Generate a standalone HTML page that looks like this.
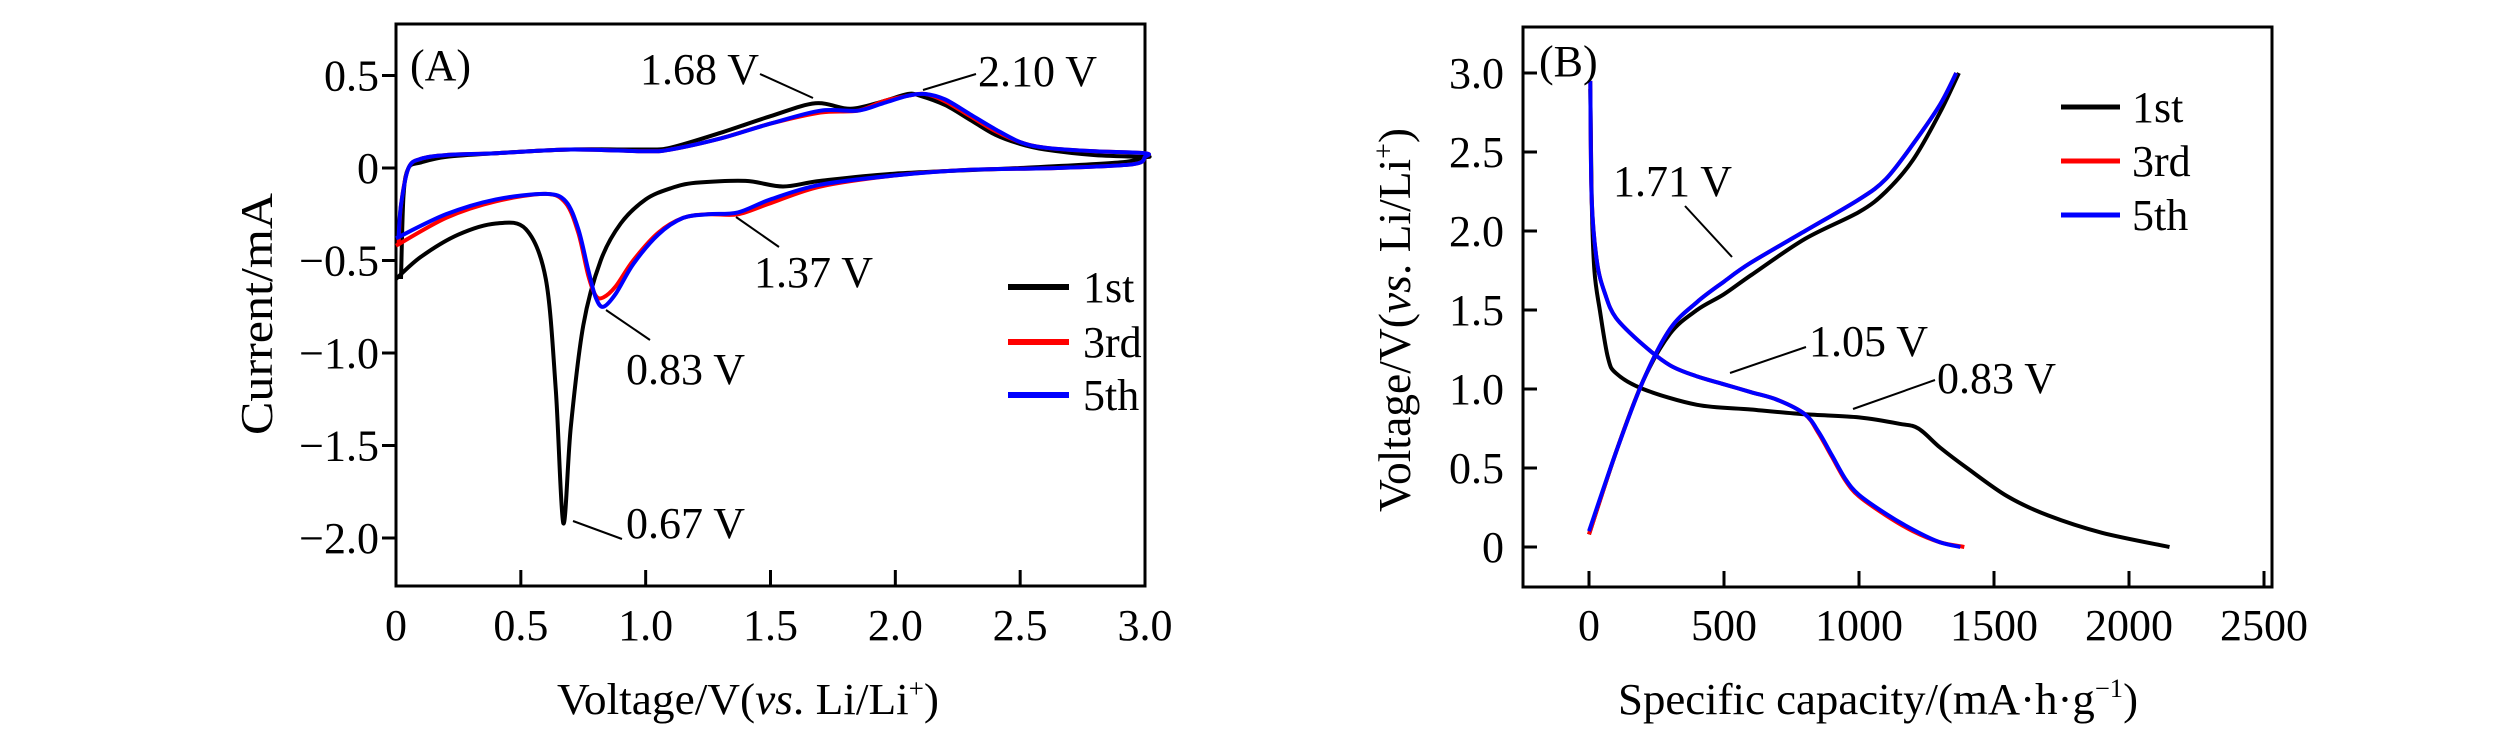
<!DOCTYPE html>
<html><head><meta charset="utf-8"><style>
html,body{margin:0;padding:0;background:#fff;}
svg{display:block;font-family:"Liberation Serif",serif;}
</style></head><body>
<svg id="chart" width="2520" height="740" viewBox="0 0 2520 740" xmlns="http://www.w3.org/2000/svg">
<g id="pa"></g>
<g id="pb"></g>
</svg>
<script>
// ---------- Panel A data ----------
const aXTicks = [0, 0.5, 1.0, 1.5, 2.0, 2.5, 3.0];
const aXTickLabels = ["0", "0.5", "1.0", "1.5", "2.0", "2.5", "3.0"];
const aYTicks = [0.5, 0, -0.5, -1.0, -1.5, -2.0];
const aYTickLabels = ["0.5", "0", "\u22120.5", "\u22121.0", "\u22121.5", "\u22122.0"];
const aSeriesNames = ["1st", "3rd", "5th"];
const aV1 = [0,0.1,0.25,0.4,0.52,0.6,0.64,0.67,0.7,0.75,0.82,0.9,1.0,1.1,1.2,1.4,1.55,1.7,2.0,2.5,2.9,3.0,3.0,2.8,2.6,2.5,2.4,2.3,2.2,2.1,2.05,1.95,1.82,1.68,1.5,1.3,1.1,1.0,0.7,0.4,0.2,0.1,0.05,0.03,0.02];
const aI1 = [-0.6,-0.48,-0.36,-0.3,-0.33,-0.6,-1.2,-1.92,-1.4,-0.85,-0.5,-0.3,-0.17,-0.11,-0.08,-0.07,-0.1,-0.07,-0.03,0.0,0.03,0.06,0.06,0.07,0.1,0.13,0.18,0.26,0.34,0.39,0.4,0.36,0.32,0.35,0.28,0.19,0.11,0.1,0.1,0.08,0.06,0.03,0.0,-0.15,-0.6];
const aV3 = [0,0.2,0.4,0.6,0.68,0.73,0.77,0.8,0.83,0.88,0.95,1.05,1.15,1.25,1.37,1.5,1.7,2.0,2.3,2.65,2.95,3.0,3.0,2.8,2.6,2.5,2.4,2.3,2.2,2.12,2.05,1.95,1.85,1.7,1.5,1.3,1.1,1.0,0.7,0.4,0.2,0.1,0.05,0.02,0.01];
const aI3 = [-0.42,-0.27,-0.18,-0.14,-0.19,-0.35,-0.58,-0.69,-0.7,-0.64,-0.5,-0.35,-0.27,-0.25,-0.25,-0.19,-0.1,-0.04,-0.01,0.0,0.02,0.06,0.08,0.09,0.11,0.14,0.2,0.28,0.36,0.4,0.39,0.36,0.31,0.3,0.24,0.16,0.1,0.09,0.1,0.08,0.07,0.05,0.0,-0.2,-0.42];
const aV5 = [0,0.2,0.4,0.6,0.68,0.73,0.77,0.8,0.83,0.88,0.95,1.05,1.15,1.25,1.37,1.5,1.7,2.0,2.3,2.65,2.95,3.0,3.0,2.8,2.6,2.5,2.4,2.3,2.2,2.12,2.05,1.95,1.85,1.7,1.5,1.3,1.1,1.0,0.7,0.4,0.2,0.1,0.05,0.02,0.01];
const aI5 = [-0.38,-0.25,-0.17,-0.14,-0.18,-0.33,-0.55,-0.7,-0.75,-0.68,-0.52,-0.36,-0.27,-0.25,-0.24,-0.17,-0.09,-0.04,-0.01,0.0,0.02,0.06,0.08,0.09,0.11,0.14,0.21,0.29,0.37,0.4,0.39,0.35,0.31,0.31,0.24,0.16,0.1,0.09,0.1,0.08,0.07,0.05,0.0,-0.2,-0.38];
// ---------- Panel B data ----------
const bXTicks = [0, 500, 1000, 1500, 2000, 2500];
const bXTickLabels = ["0", "500", "1000", "1500", "2000", "2500"];
const bYTicks = [0, 0.5, 1.0, 1.5, 2.0, 2.5, 3.0];
const bYTickLabels = ["0", "0.5", "1.0", "1.5", "2.0", "2.5", "3.0"];
const bSeriesNames = ["1st", "3rd", "5th"];
const bDisC1 = [5,10,20,40,70,100,200,400,600,800,1000,1150,1220,1300,1400,1550,1700,1900,2150];
const bDisV1 = [2.9,2.2,1.75,1.5,1.2,1.1,1.0,0.9,0.87,0.84,0.82,0.78,0.75,0.63,0.5,0.32,0.2,0.09,0.0];
const bChC1 = [0,100,200,300,400,500,600,800,1000,1100,1200,1300,1370];
const bChV1 = [0.08,0.6,1.05,1.35,1.5,1.6,1.72,1.95,2.12,2.25,2.45,2.75,3.0];
const bDisC3 = [5,10,30,60,100,200,300,400,500,600,700,800,850,900,950,1000,1100,1200,1300,1390];
const bDisV3 = [2.95,2.2,1.8,1.6,1.45,1.28,1.15,1.08,1.03,0.98,0.93,0.84,0.72,0.57,0.42,0.32,0.2,0.1,0.03,0.0];
const bChC3 = [0,100,200,300,400,500,600,800,1000,1100,1200,1300,1360];
const bChV3 = [0.08,0.6,1.05,1.38,1.55,1.68,1.8,2.0,2.2,2.33,2.55,2.8,3.0];
const bDisC5 = [5,10,30,60,100,200,300,400,500,600,700,800,850,900,950,1000,1100,1200,1300,1375];
const bDisV5 = [2.95,2.2,1.8,1.6,1.45,1.28,1.15,1.08,1.03,0.98,0.93,0.84,0.73,0.58,0.43,0.33,0.21,0.11,0.03,0.0];
const bChC5 = [0,100,200,300,400,500,600,800,1000,1100,1200,1300,1360];
const bChV5 = [0.1,0.6,1.05,1.38,1.55,1.68,1.8,2.0,2.2,2.33,2.55,2.8,3.0];

const NS = "http://www.w3.org/2000/svg";
const FS = 44;
function mk(parent, tag, attrs, text) {
  const e = document.createElementNS(NS, tag);
  for (const k in attrs) e.setAttribute(k, attrs[k]);
  if (text !== undefined) e.textContent = text;
  parent.appendChild(e);
  return e;
}
function smoothPath(pts) {
  let d = "M" + pts[0][0].toFixed(1) + "," + pts[0][1].toFixed(1);
  for (let i = 0; i < pts.length - 1; i++) {
    const p0 = pts[Math.max(0, i - 1)], p1 = pts[i], p2 = pts[i + 1], p3 = pts[Math.min(pts.length - 1, i + 2)];
    const t = 0.16;
    const c1 = [p1[0] + (p2[0] - p0[0]) * t, p1[1] + (p2[1] - p0[1]) * t];
    const c2 = [p2[0] - (p3[0] - p1[0]) * t, p2[1] - (p3[1] - p1[1]) * t];
    d += " C" + c1[0].toFixed(1) + "," + c1[1].toFixed(1) + " " + c2[0].toFixed(1) + "," + c2[1].toFixed(1) + " " + p2[0].toFixed(1) + "," + p2[1].toFixed(1);
  }
  return d;
}
const colors = ["#000000", "#ff0000", "#0000ff"];

// ---------- Panel A ----------
(function () {
  const g = document.getElementById("pa");
  const L = 396, R = 1145, T = 24, B = 586;
  const x = v => L + (v - 0) / 3 * (R - L);
  const y = v => 168 - v * 185;
  const box = mk(g, "rect", {x: L, y: T, width: R - L, height: B - T, fill: "none", stroke: "#000", "stroke-width": 3});
  
  
  aXTicks.forEach((v, i) => {
    if (i > 0 && i < aXTicks.length - 1) {
      const tk = mk(g, "line", {x1: x(v), x2: x(v), y1: B, y2: B - 16, stroke: "#000", "stroke-width": 3});
      
      
    }
    const t = mk(g, "text", {x: x(v), y: 640, "font-size": FS, "text-anchor": "middle"}, aXTickLabels[i]);
    
    
  });
  aYTicks.forEach((v, i) => {
    const tk = mk(g, "line", {x1: L - 14, x2: L, y1: y(v), y2: y(v), stroke: "#000", "stroke-width": 3});
    
    
    const t = mk(g, "text", {x: 379, y: y(v) + 15, "font-size": FS, "text-anchor": "end"}, aYTickLabels[i]);
    
    
  });
  const yt = mk(g, "text", {x: 0, y: 0, "font-size": 46, "text-anchor": "middle", transform: "translate(272,314) rotate(-90)", textLength: 242, lengthAdjust: "spacingAndGlyphs"}, "Current/mA");
  
  
  const xt = mk(g, "text", {x: 748, y: 714, "font-size": 44, "text-anchor": "middle", textLength: 382, lengthAdjust: "spacingAndGlyphs"});
  
  
  xt.innerHTML = 'Voltage/V(<tspan font-style="italic">vs</tspan>. Li/Li<tspan font-size="26" dy="-17">+</tspan><tspan dy="17">)</tspan>';
  const series = [[aV1, aI1], [aV3, aI3], [aV5, aI5]];
  [0, 1, 2].forEach(s => {
    const pts = series[s][0].map((v, i) => [x(v), y(series[s][1][i])]);
    const p = mk(g, "path", {d: smoothPath(pts), fill: "none", stroke: colors[s], "stroke-width": 4, "stroke-linejoin": "round"});
    
    
  });
  const legY = [287, 342, 395];
  aSeriesNames.forEach((n, i) => {
    const l = mk(g, "line", {x1: 1008, x2: 1069, y1: legY[i], y2: legY[i], stroke: colors[i], "stroke-width": 6});
    
    
    const t = mk(g, "text", {x: 1083, y: legY[i] + 15, "font-size": FS}, n);
    
    
  });
  const ann = [["(A)", 410, 80, null], ["1.68 V", 640, 84, [760, 74, 813, 98]], ["2.10 V", 978, 86, [976, 74, 923, 90]],
               ["1.37 V", 754, 287, [779, 247, 736, 217]], ["0.83 V", 626, 384, [650, 340, 606, 310]], ["0.67 V", 626, 538, [622, 539, 573, 521]]];
  ann.forEach(a => {
    const t = mk(g, "text", {x: a[1], y: a[2], "font-size": FS}, a[0]);
    
    
    if (a[3]) {
      const l = mk(g, "line", {x1: a[3][0], y1: a[3][1], x2: a[3][2], y2: a[3][3], stroke: "#000", "stroke-width": 2});
      
      
    }
  });
})();

// ---------- Panel B ----------
(function () {
  const g = document.getElementById("pb");
  const L = 1523, R = 2272, T = 27, B = 587;
  const x = v => 1589 + v / 500 * 135;
  const y = v => 547 - v / 0.5 * 79;
  const box = mk(g, "rect", {x: L, y: T, width: R - L, height: B - T, fill: "none", stroke: "#000", "stroke-width": 3});
  
  
  bXTicks.forEach((v, i) => {
    if (x(v) < R - 5) {
      const tk = mk(g, "line", {x1: x(v), x2: x(v), y1: B, y2: B - 16, stroke: "#000", "stroke-width": 3});
      
      
    }
    const t = mk(g, "text", {x: x(v), y: 640, "font-size": FS, "text-anchor": "middle"}, bXTickLabels[i]);
    
    
  });
  bYTicks.forEach((v, i) => {
    const tk = mk(g, "line", {x1: L, x2: L + 14, y1: y(v), y2: y(v), stroke: "#000", "stroke-width": 3});
    
    
    const t = mk(g, "text", {x: 1504, y: y(v) + 15, "font-size": FS, "text-anchor": "end"}, bYTickLabels[i]);
    
    
  });
  const yt = mk(g, "text", {x: 0, y: 0, "font-size": 46, "text-anchor": "middle", transform: "translate(1410,320) rotate(-90)", textLength: 384, lengthAdjust: "spacingAndGlyphs"});
  
  
  yt.innerHTML = 'Voltage/V(<tspan font-style="italic">vs</tspan>. Li/Li<tspan font-size="28" dy="-17">+</tspan><tspan dy="17">)</tspan>';
  const xt = mk(g, "text", {x: 1878, y: 714, "font-size": 44, "text-anchor": "middle", textLength: 520, lengthAdjust: "spacingAndGlyphs"});
  
  
  xt.innerHTML = 'Specific capacity/(mA\u00b7h\u00b7g<tspan font-size="26" dy="-17">\u22121</tspan><tspan dy="17">)</tspan>';
  const series = [[bDisC1, bDisV1, bChC1, bChV1], [bDisC3, bDisV3, bChC3, bChV3], [bDisC5, bDisV5, bChC5, bChV5]];
  [0, 1, 2].forEach(s => {
    const d1 = series[s][0].map((c, i) => [x(c), y(series[s][1][i])]);
    const d2 = series[s][2].map((c, i) => [x(c), y(series[s][3][i])]);
    const p1 = mk(g, "path", {d: smoothPath(d1), fill: "none", stroke: colors[s], "stroke-width": 4, "stroke-linejoin": "round"});
    
    
    const p2 = mk(g, "path", {d: smoothPath(d2), fill: "none", stroke: colors[s], "stroke-width": 4, "stroke-linejoin": "round"});
    
    
  });
  const legY = [107, 161, 215];
  bSeriesNames.forEach((n, i) => {
    const l = mk(g, "line", {x1: 2061, x2: 2120, y1: legY[i], y2: legY[i], stroke: colors[i], "stroke-width": 5});
    
    
    const t = mk(g, "text", {x: 2132, y: legY[i] + 15, "font-size": FS}, n);
    
    
  });
  const ann = [["(B)", 1539, 76, null], ["1.71 V", 1613, 196, [1685, 206, 1732, 257]],
               ["1.05 V", 1809, 356, [1806, 347, 1730, 373]], ["0.83 V", 1937, 393, [1935, 380, 1853, 409]]];
  ann.forEach(a => {
    const t = mk(g, "text", {x: a[1], y: a[2], "font-size": FS}, a[0]);
    
    
    if (a[3]) {
      const l = mk(g, "line", {x1: a[3][0], y1: a[3][1], x2: a[3][2], y2: a[3][3], stroke: "#000", "stroke-width": 2});
      
      
    }
  });
})();
</script>
</body></html>
